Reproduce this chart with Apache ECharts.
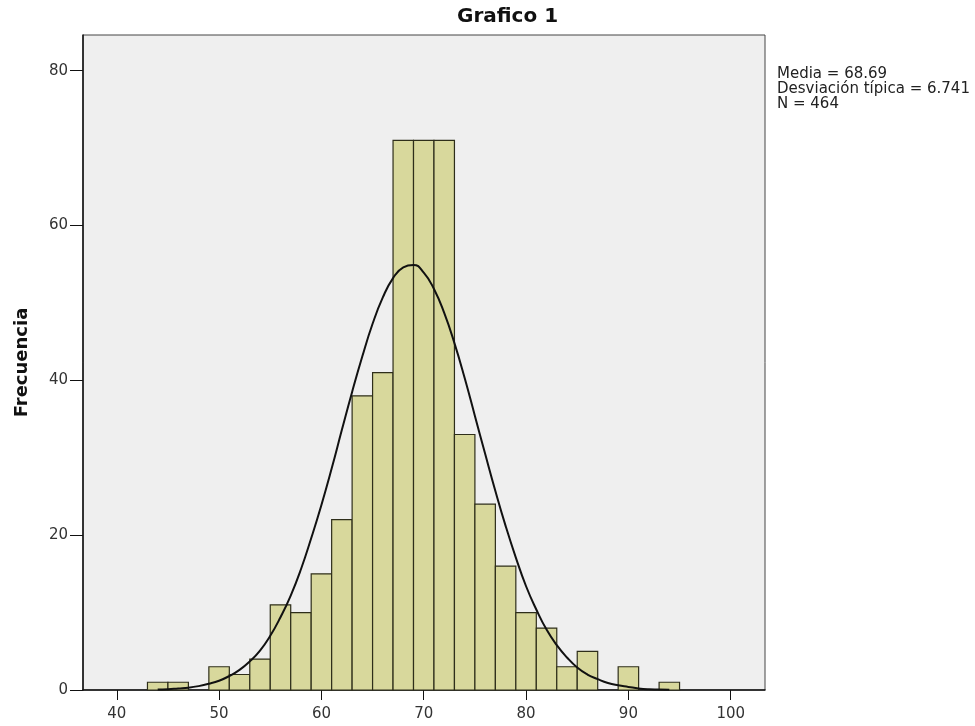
<!DOCTYPE html>
<html><head><meta charset="utf-8">
<script src="https://cdn.jsdelivr.net/npm/echarts@6/dist/echarts.min.js"></script>
<style>html,body{margin:0;padding:0;background:#fff}#c{width:975px;height:726px}</style>
</head><body><div id="c"></div>
<script>
// Histogram bins (start of each 2-unit bin) and frequencies
var binStarts = [43,45,47,49,51,53,55,57,59,61,63,65,67,69,71,73,75,77,79,81,83,85,87,89,91,93];
var counts    = [ 1, 1, 0, 3, 2, 4,11,10,15,22,38,41,71,71,71,33,24,16,10, 8, 3, 5, 0, 3, 0, 1];
var binWidth = 2;
// Normal curve
var curveX = [44,45,46,47,48,49,50,51,52,53,54,55,56,57,58,59,60,61,62,63,64,65,66,67,68,69,70,71,72,73,74,75,76,77,78,79,80,81,82,83,84,85,86,87,88,89,90,91,92,93,94];
var curveY = [0.05,0.1,0.2,0.3,0.5,0.8,1.2,1.8,2.6,3.7,5.1,7.0,9.4,12.2,15.6,19.6,23.9,28.6,33.6,38.5,43.1,47.3,50.7,53.2,54.6,54.9,53.9,51.8,48.7,44.8,40.3,35.4,30.5,25.7,21.2,17.1,13.4,10.4,7.8,5.8,4.2,2.9,2.0,1.4,0.9,0.6,0.4,0.2,0.1,0.07,0.04];
var xTicks = [40,50,60,70,80,90,100];
var yTicks = [0,20,40,60,80];
var titleText = 'Grafico 1';
var yName = 'Frecuencia';
var statsLines = ['Media = 68.69','Desviación típica = 6.741','N = 464'];

var binData = binStarts.map(function(s,i){ return [s, s+binWidth, counts[i]]; });
var curveData = curveX.map(function(x,i){ return [x, curveY[i]]; });
var FONT = 'DejaVu Sans, Liberation Sans, Arial';

var chart = echarts.init(document.getElementById('c'));
chart.setOption({
  animation:false,
  backgroundColor:'#ffffff',
  title:{text:titleText,left:452,top:2,textStyle:{fontFamily:FONT,fontSize:20,fontWeight:'bold',color:'#111'}},
  graphic:[{type:'text',left:777,top:67,style:{text:statsLines.join('\n'),font:'15px DejaVu Sans, Liberation Sans, Arial',fill:'#222',lineHeight:15}}],
  grid:{left:83,top:35,right:210,bottom:36,show:true,backgroundColor:'#efefef',borderColor:'#444',borderWidth:1},
  xAxis:{type:'value',min:36.7,max:103.35,
    axisLine:{lineStyle:{color:'#111',width:1.5}},
    axisTick:{customValues:xTicks,length:10,lineStyle:{color:'#111'}},
    axisLabel:{customValues:xTicks,color:'#333',fontSize:15,fontFamily:FONT,margin:17},
    splitLine:{show:false}},
  yAxis:{type:'value',min:0,max:84.6,name:yName,nameLocation:'middle',nameGap:52,
    nameTextStyle:{fontFamily:FONT,fontSize:18,fontWeight:'bold',color:'#111'},
    axisLine:{show:true,lineStyle:{color:'#111',width:1.5}},
    axisTick:{show:true,customValues:yTicks,length:13,lineStyle:{color:'#111'}},
    axisLabel:{customValues:yTicks,color:'#333',fontSize:15,fontFamily:FONT,margin:15},
    splitLine:{show:false}},
  series:[
    {type:'custom',data:binData,encode:{x:[0,1],y:2},
      renderItem:function(params,api){
        var v = api.value(2); if(!v) return null;
        var p0 = api.coord([api.value(0),0]);
        var p1 = api.coord([api.value(1),v]);
        return {type:'rect',shape:{x:p0[0],y:p1[1],width:p1[0]-p0[0],height:p0[1]-p1[1]},
          style:{fill:'#d8d89c',stroke:'#2e2e1a',lineWidth:1.2}};
      },z:2},
    {type:'line',data:curveData,smooth:true,showSymbol:false,lineStyle:{color:'#111',width:2},z:3}
  ]
});
</script></body></html>
